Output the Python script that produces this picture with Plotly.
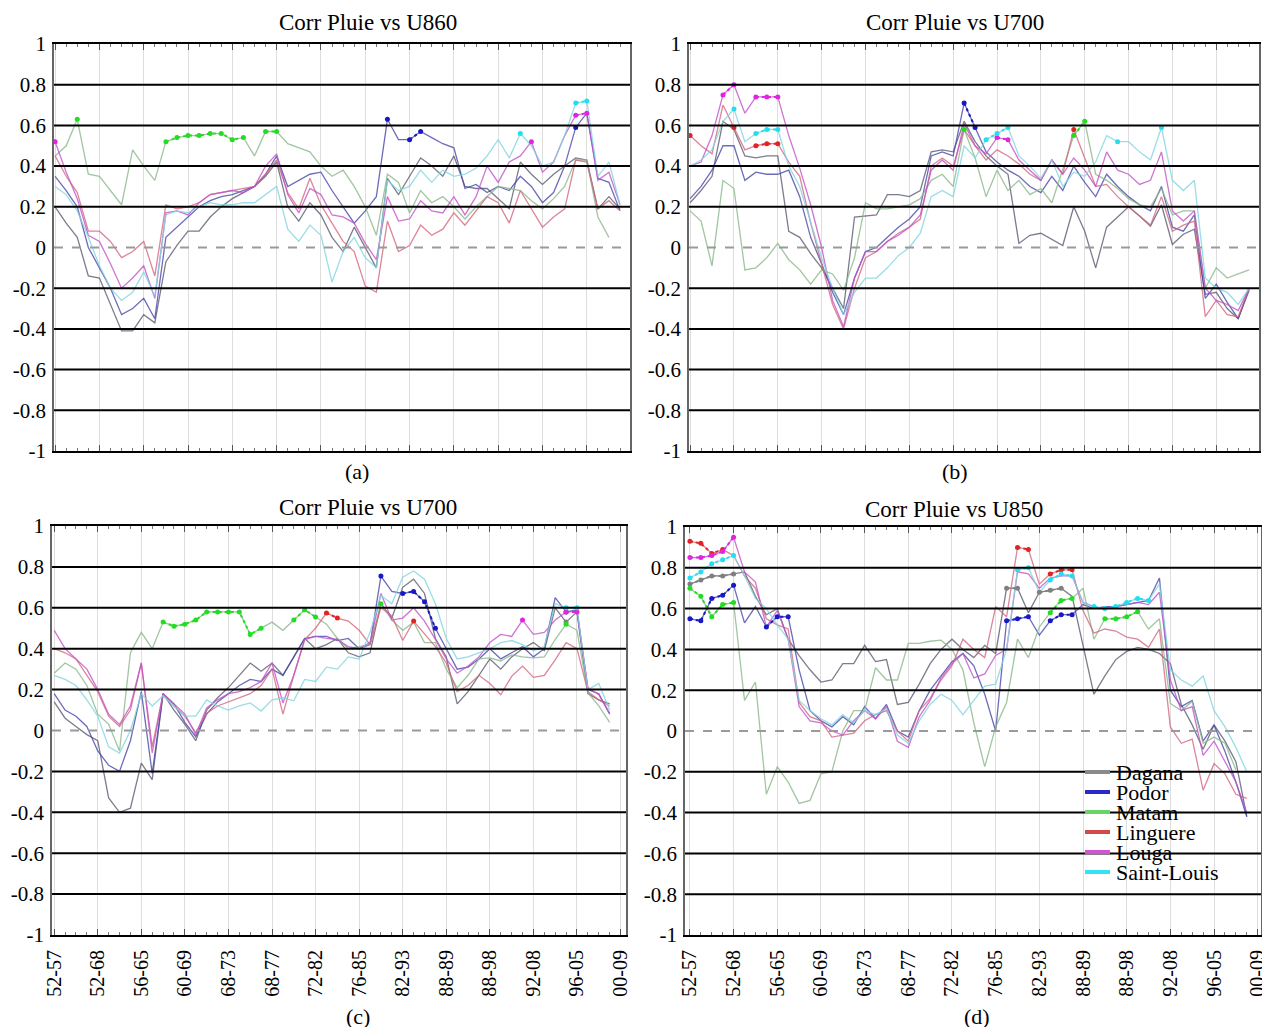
import plotly.graph_objects as go

# ---------------- data ----------------
stations = ["Dagana", "Podor", "Matam", "Linguere", "Louga", "Saint-Louis"]
x_labels = ["52-57", "52-68", "56-65", "60-69", "68-73", "68-77", "72-82",
            "76-85", "82-93", "88-89", "88-98", "92-08", "96-05", "00-09"]
y_ticks = [1, 0.8, 0.6, 0.4, 0.2, 0, -0.2, -0.4, -0.6, -0.8, -1]
y_ticktext = ["1", "0.8", "0.6", "0.4", "0.2", "0", "-0.2", "-0.4", "-0.6", "-0.8", "-1"]
grid_levels = [0.8, 0.6, 0.4, 0.2, -0.2, -0.4, -0.6, -0.8]
titles = ["Corr Pluie vs U860", "Corr Pluie vs U700", "Corr Pluie vs U700", "Corr Pluie vs U850"]
captions = ["(a)", "(b)", "(c)", "(d)"]

# panel (a)
a_dagana = [0.20,0.12,0.05,-0.14,-0.15,-0.28,-0.41,-0.41,-0.33,-0.37,
            -0.07,0.01,0.08,0.08,0.15,0.20,0.24,0.27,0.30,0.35,
            0.42,0.20,0.13,0.22,0.16,0.05,-0.02,0.10,0.00,-0.10,
            0.34,0.26,0.35,0.44,0.40,0.35,0.45,0.30,0.29,0.29,
            0.24,0.19,0.42,0.36,0.31,0.36,0.40,0.44,0.43,0.19,
            0.25,0.19]
a_podor = [0.35,0.28,0.20,0.00,-0.10,-0.20,-0.33,-0.30,-0.25,-0.35,
           0.05,0.10,0.15,0.20,0.23,0.25,0.26,0.28,0.30,0.36,
           0.45,0.30,0.33,0.36,0.37,0.28,0.20,0.12,0.18,0.25,
           0.63,0.53,0.53,0.57,0.54,0.51,0.49,0.29,0.31,0.27,
           0.30,0.28,0.35,0.30,0.22,0.27,0.40,0.59,0.66,0.34,
           0.32,0.18]
a_matam = [0.45,0.50,0.63,0.36,0.35,0.28,0.21,0.48,0.40,0.33,
           0.52,0.54,0.55,0.55,0.56,0.56,0.53,0.54,0.45,0.57,
           0.57,0.51,0.49,0.47,0.40,0.35,0.38,0.30,0.20,0.06,
           0.36,0.32,0.17,0.28,0.22,0.25,0.20,0.14,0.20,0.25,
           0.30,0.29,0.28,0.23,0.19,0.24,0.30,0.43,0.43,0.15,
           0.05,None]
a_linguere = [0.45,0.35,0.27,0.08,0.08,0.03,-0.05,-0.02,0.03,-0.14,
              0.21,0.19,0.20,0.22,0.26,0.27,0.28,0.29,0.30,0.36,
              0.43,0.27,0.19,0.34,0.21,0.12,0.03,-0.02,-0.19,-0.22,
              0.13,-0.02,0.01,0.11,0.06,0.09,0.17,0.11,0.18,0.25,
              0.22,0.12,0.28,0.19,0.10,0.15,0.19,0.43,0.42,0.19,
              0.23,0.18]
a_louga = [0.52,0.37,0.24,0.06,0.03,-0.08,-0.20,-0.15,-0.09,-0.25,
           0.17,0.18,0.16,0.22,0.26,0.27,0.28,0.27,0.30,0.40,
           0.46,0.26,0.17,0.29,0.26,0.16,0.15,0.12,0.02,-0.06,
           0.25,0.13,0.14,0.23,0.18,0.17,0.25,0.16,0.25,0.40,
           0.32,0.42,0.45,0.52,0.37,0.42,0.55,0.65,0.66,0.33,
           0.37,0.21]
a_stlouis = [0.30,0.26,0.18,0.05,-0.09,-0.20,-0.26,-0.22,-0.12,-0.24,
             0.16,0.18,0.17,0.20,0.22,0.21,0.21,0.22,0.22,0.26,
             0.30,0.09,0.03,0.11,0.06,-0.17,-0.02,0.05,-0.05,-0.10,
             0.33,0.28,0.30,0.38,0.32,0.38,0.35,0.36,0.39,0.45,
             0.53,0.44,0.56,0.50,0.40,0.42,0.55,0.71,0.72,0.35,
             0.42,0.21]

# panel (b)
b_dagana = [0.22,0.28,0.35,0.62,0.58,0.45,0.44,0.45,0.45,0.08,
            0.05,-0.03,-0.10,-0.20,-0.30,0.15,0.155,0.16,0.26,0.26,
            0.25,0.28,0.47,0.48,0.47,0.62,0.52,0.45,0.40,0.36,
            0.02,0.06,0.07,0.04,0.01,0.20,0.08,-0.10,0.10,0.15,
            0.20,0.155,0.105,0.21,0.015,0.065,0.09,-0.23,-0.22,-0.30,
            -0.35,-0.20]
b_podor = [0.24,0.30,0.38,0.50,0.50,0.33,0.37,0.36,0.36,0.38,
           0.25,0.05,-0.08,-0.22,-0.33,-0.15,-0.02,0.00,0.05,0.10,
           0.14,0.20,0.45,0.47,0.45,0.71,0.59,0.47,0.42,0.38,
           0.35,0.30,0.27,0.35,0.28,0.40,0.32,0.25,0.36,0.30,
           0.25,0.21,0.18,0.30,0.10,0.08,0.16,-0.25,-0.18,-0.27,
           -0.35,-0.21]
b_matam = [0.18,0.13,-0.09,0.33,0.29,-0.11,-0.10,-0.05,0.02,-0.06,
           -0.11,-0.18,-0.11,-0.13,-0.21,-0.05,0.22,0.19,0.19,0.20,
           0.21,0.24,0.33,0.36,0.30,0.58,0.44,0.25,0.38,0.28,
           0.33,0.26,0.29,0.22,0.38,0.55,0.62,0.36,0.33,0.29,
           0.24,0.21,0.20,0.29,0.16,0.18,0.18,-0.20,-0.10,-0.15,
           -0.13,-0.11]
b_linguere = [0.55,0.50,0.46,0.70,0.59,0.48,0.50,0.51,0.51,0.42,
              0.35,0.12,-0.08,-0.28,-0.40,-0.20,-0.05,-0.02,0.03,0.07,
              0.10,0.14,0.40,0.44,0.40,0.58,0.50,0.43,0.48,0.45,
              0.41,0.36,0.33,0.43,0.36,0.58,0.44,0.30,0.31,0.25,
              0.20,0.155,0.11,0.25,0.08,0.11,0.13,-0.34,-0.26,-0.33,
              -0.34,-0.20]
b_louga = [0.40,0.42,0.55,0.75,0.80,0.66,0.74,0.74,0.74,0.55,
           0.39,0.21,0.00,-0.26,-0.39,-0.15,-0.02,-0.02,0.03,0.06,
           0.10,0.16,0.38,0.43,0.38,0.61,0.50,0.46,0.54,0.53,
           0.43,0.38,0.33,0.43,0.36,0.44,0.38,0.30,0.47,0.38,
           0.36,0.31,0.33,0.47,0.18,0.13,0.18,-0.20,-0.26,-0.28,
           -0.31,-0.20]
b_stlouis = [0.40,0.43,0.48,0.62,0.68,0.52,0.56,0.58,0.58,0.40,
             0.30,0.12,-0.05,-0.20,-0.33,-0.22,-0.15,-0.15,-0.10,-0.04,
             0.00,0.07,0.25,0.28,0.25,0.50,0.44,0.53,0.56,0.59,
             0.45,0.40,0.34,0.43,0.30,0.37,0.35,0.42,0.55,0.52,
             0.52,0.47,0.43,0.59,0.33,0.28,0.33,-0.15,-0.20,-0.22,
             -0.28,-0.20]

# panel (c)
c_dagana = [0.14,0.06,0.02,-0.02,-0.05,-0.33,-0.40,-0.38,-0.16,-0.24,
            0.18,0.10,0.03,-0.05,0.10,0.16,0.21,0.27,0.33,0.29,
            0.33,0.27,0.36,0.45,0.40,0.42,0.45,0.38,0.36,0.38,
            0.62,0.55,0.70,0.74,0.67,0.45,0.36,0.13,0.19,0.27,
            0.35,0.30,0.36,0.40,0.43,0.39,0.60,0.53,0.58,0.18,
            0.15,0.13]
c_podor = [0.18,0.10,0.07,0.02,-0.10,-0.17,-0.20,-0.05,0.19,-0.21,
           0.18,0.13,0.04,-0.03,0.08,0.14,0.18,0.22,0.25,0.24,
           0.30,0.27,0.36,0.45,0.46,0.46,0.44,0.45,0.40,0.42,
           0.755,0.68,0.67,0.68,0.63,0.50,0.40,0.30,0.31,0.35,
           0.40,0.35,0.38,0.41,0.36,0.40,0.65,0.58,0.59,0.20,
           0.18,0.08]
c_matam = [0.28,0.33,0.30,0.22,0.08,0.03,-0.10,0.38,0.48,0.40,
           0.53,0.51,0.52,0.54,0.58,0.58,0.58,0.58,0.47,0.50,
           0.53,0.49,0.54,0.59,0.555,0.52,0.45,0.40,0.41,0.42,
           0.62,0.54,0.49,0.53,0.43,0.43,0.30,0.21,0.27,0.35,
           0.355,0.34,0.37,0.36,0.355,0.36,0.445,0.52,0.49,0.185,
           0.12,0.04]
c_linguere = [0.40,0.38,0.35,0.27,0.19,0.07,0.02,0.10,0.33,-0.08,
              0.18,0.12,0.07,-0.01,0.085,0.12,0.14,0.16,0.18,0.22,
              0.30,0.08,0.27,0.445,0.50,0.575,0.55,0.535,0.49,0.42,
              0.60,0.56,0.44,0.535,0.47,0.41,0.33,0.19,0.22,0.27,
              0.23,0.175,0.265,0.315,0.26,0.27,0.345,0.43,0.40,0.19,
              0.15,0.12]
c_louga = [0.49,0.40,0.35,0.30,0.20,0.08,0.03,0.12,0.33,-0.11,
           0.18,0.13,0.08,-0.02,0.11,0.15,0.18,0.19,0.21,0.24,
           0.33,0.135,0.27,0.445,0.46,0.45,0.445,0.41,0.40,0.43,
           0.67,0.54,0.55,0.60,0.535,0.445,0.35,0.28,0.315,0.36,
           0.43,0.47,0.46,0.54,0.47,0.48,0.54,0.58,0.58,0.21,
           0.175,0.085]
c_stlouis = [0.27,0.25,0.22,0.15,0.07,-0.08,-0.11,0.00,0.18,0.12,
             0.17,0.12,0.07,0.07,0.15,0.12,0.10,0.12,0.135,0.095,
             0.15,0.16,0.145,0.25,0.24,0.31,0.30,0.36,0.35,0.48,
             0.66,0.62,0.75,0.78,0.74,0.62,0.45,0.35,0.36,0.38,
             0.40,0.43,0.44,0.42,0.39,0.41,0.62,0.60,0.60,0.20,
             0.23,0.10]

# panel (d)
d_dagana = [0.72,0.74,0.76,0.76,0.77,0.78,0.66,0.57,0.60,0.45,
            0.37,0.30,0.24,0.25,0.33,0.33,0.42,0.34,0.35,0.13,
            0.14,0.23,0.33,0.40,0.45,0.40,0.36,0.42,0.38,0.70,
            0.70,0.58,0.68,0.69,0.70,0.66,0.42,0.18,0.27,0.35,
            0.39,0.41,0.40,0.38,0.33,0.13,0.03,-0.09,0.03,-0.05,
            -0.15,-0.42]
d_podor = [0.55,0.54,0.65,0.665,0.715,0.53,0.61,0.51,0.56,0.56,
           0.30,0.10,0.05,0.02,0.07,0.03,0.12,0.06,0.13,0.00,
           -0.03,0.10,0.20,0.27,0.34,0.38,0.32,0.18,0.00,0.54,
           0.55,0.56,0.47,0.54,0.57,0.57,0.62,0.60,0.61,0.61,
           0.62,0.63,0.64,0.75,0.20,0.12,0.15,-0.05,0.03,-0.10,
           -0.25,-0.42]
d_matam = [0.70,0.66,0.56,0.62,0.63,0.15,0.24,-0.31,-0.175,-0.25,
           -0.355,-0.34,-0.21,-0.20,0.00,0.10,0.10,0.31,0.25,0.25,
           0.43,0.43,0.44,0.445,0.40,0.30,0.04,-0.175,0.02,0.14,
           0.45,0.36,0.51,0.58,0.64,0.65,0.70,0.45,0.55,0.55,
           0.56,0.585,0.50,0.55,0.135,0.10,0.145,-0.06,-0.03,-0.06,
           -0.19,None]
d_linguere = [0.93,0.92,0.87,0.89,0.86,0.76,0.70,0.55,0.52,0.50,
              0.14,0.07,0.05,-0.03,-0.02,-0.01,0.05,0.08,0.10,0.00,
              -0.05,0.10,0.16,0.25,0.32,0.45,0.40,0.36,0.61,0.56,
              0.90,0.89,0.72,0.77,0.79,0.79,0.59,0.48,0.50,0.49,
              0.46,0.45,0.41,0.50,0.02,-0.06,-0.04,-0.29,-0.16,-0.21,
              -0.31,-0.33]
d_louga = [0.85,0.85,0.86,0.88,0.95,0.78,0.73,0.51,0.59,0.45,
           0.12,0.05,0.04,0.00,-0.02,0.05,0.10,0.06,0.12,-0.05,
           -0.08,0.07,0.15,0.26,0.33,0.38,0.26,0.28,0.37,0.40,
           0.78,0.77,0.70,0.75,0.76,0.76,0.63,0.61,0.60,0.61,
           0.62,0.63,0.62,0.68,0.25,0.10,0.12,-0.12,-0.05,-0.15,
           -0.25,-0.40]
d_stlouis = [0.75,0.78,0.82,0.84,0.86,0.76,0.65,0.60,0.52,0.45,
             0.15,0.10,0.06,0.03,0.08,0.04,0.10,0.08,0.11,-0.02,
             -0.06,0.05,0.13,0.18,0.15,0.08,0.15,0.22,0.23,0.40,
             0.79,0.80,0.68,0.74,0.77,0.76,0.63,0.61,0.60,0.61,
             0.63,0.65,0.64,0.72,0.30,0.25,0.22,0.27,0.10,0.02,
             -0.08,-0.20]

# indices of significant windows (drawn with markers), per station order
a_sig = [[], [30, 32, 33, 47], [2, 10, 11, 12, 13, 14, 15, 16, 17, 19, 20], [], [0, 43, 47, 48], [42, 47, 48]]
b_sig = [[], [25, 26], [25, 35, 36], [0, 4, 6, 7, 8, 35], [3, 4, 6, 7, 8, 28, 29], [4, 6, 7, 8, 27, 28, 29, 39, 43]]
c_sig = [[47], [30, 32, 33, 34, 35, 47], [10, 11, 12, 13, 14, 15, 16, 17, 18, 19, 22, 23, 24, 30, 47],
         [25, 26, 33], [43, 47, 48], [47, 48]]
d_sig = [[0, 1, 2, 3, 4, 29, 30, 32, 33, 34], [0, 1, 2, 3, 4, 7, 8, 9, 29, 30, 31, 33, 34, 35],
         [0, 1, 2, 3, 4, 33, 34, 35, 38, 39, 40, 41], [0, 1, 2, 3, 30, 31, 33, 34, 35],
         [0, 1, 2, 3, 4], [0, 1, 2, 3, 4, 30, 31, 33, 34, 35, 37, 38, 39, 40, 41, 42]]

panel_series = [
    [a_dagana, a_podor, a_matam, a_linguere, a_louga, a_stlouis],
    [b_dagana, b_podor, b_matam, b_linguere, b_louga, b_stlouis],
    [c_dagana, c_podor, c_matam, c_linguere, c_louga, c_stlouis],
    [d_dagana, d_podor, d_matam, d_linguere, d_louga, d_stlouis],
]
panel_sig = [a_sig, b_sig, c_sig, d_sig]

# ---------------- style ----------------
base_colors = ["#5c5c72", "#4848aa", "#8ab88a", "#d46880", "#c452ca", "#80d6e0"]
sig_colors = ["#808080", "#1818c8", "#22dd22", "#e02424", "#e024e0", "#22dff0"]
legend_colors = ["#8a8a8a", "#2a2ac8", "#66d466", "#d04a4a", "#d552d5", "#35e2f2"]
SERIF = "Liberation Serif"

W, H = 1270, 1027
OFF = 8  # page body margin of the browser: figure is drawn 8px in from the corner


def px(x):
    return (x - OFF) / W


def py(y):
    return 1 - (y - OFF) / H


# plot areas in screen pixels (left, right, top, bottom)
boxes = [(54, 630, 44, 451), (689, 1259, 44, 451), (52, 626, 526, 935), (685, 1261, 527, 935)]
xranges = [[-0.1, 51.9], [-0.1, 51.9], [-0.2, 52.5], [-0.45, 52.3]]
title_pos = [(368, 22), (955, 22), (368, 507), (954, 509)]
caption_pos = [(357, 471), (955, 471), (358, 1016), (977, 1016)]
legend_box = (1085, 1110, 1115, 772, 20)  # swatch x0, x1, text x, first row y, row step

fig = go.Figure()
n = len(a_dagana)
xs = list(range(n))

for p in range(4):
    ax = "" if p == 0 else str(p + 1)
    for s in range(6):
        ys = panel_series[p][s]
        fig.add_trace(go.Scatter(
            x=xs, y=ys, mode="lines",
            line=dict(color=base_colors[s], width=1.3),
            opacity=0.8, showlegend=False, hoverinfo="skip",
            xaxis="x" + ax, yaxis="y" + ax))
    for s in range(6):
        ys = panel_series[p][s]
        sig = set(panel_sig[p][s])
        if not sig:
            continue
        ysig = [ys[i] if i in sig else None for i in xs]
        fig.add_trace(go.Scatter(
            x=xs, y=ysig, mode="lines+markers",
            line=dict(color=sig_colors[s], width=2, dash="dot"),
            marker=dict(color=sig_colors[s], size=5),
            showlegend=False, hoverinfo="skip",
            xaxis="x" + ax, yaxis="y" + ax))

layout = dict(
    width=W, height=H,
    margin=dict(l=0, r=0, t=0, b=0, autoexpand=False),
    paper_bgcolor="white", plot_bgcolor="white",
    font=dict(family=SERIF, color="black"),
    showlegend=False,
)

shapes = []
annotations = []
major_ticks = list(range(0, 4 * len(x_labels), 4))
for p in range(4):
    l, r, t, b = boxes[p]
    ax = "" if p == 0 else str(p + 1)
    bottom_row = p >= 2
    layout["xaxis" + ax] = dict(
        domain=[px(l), px(r)], anchor="y" + ax, range=xranges[p], automargin=False,
        tickmode="array", tickvals=major_ticks, ticktext=x_labels,
        showticklabels=bottom_row, tickangle=-90,
        tickfont=dict(family=SERIF, size=20, color="black"),
        ticks="inside", ticklen=6, tickcolor="#555", tickwidth=1,
        showgrid=True, gridcolor="#dedede", gridwidth=1,
        showline=True, linecolor="black", linewidth=2, mirror="ticks",
        zeroline=False, ticklabelstandoff=5,
        minor=dict(ticks="inside", ticklen=3, tickcolor="#777",
                   tickmode="array", tickvals=xs, showgrid=False),
    )
    layout["yaxis" + ax] = dict(
        domain=[py(b), py(t)], anchor="x" + ax, range=[-1, 1], automargin=False,
        tickmode="array", tickvals=y_ticks, ticktext=y_ticktext,
        tickfont=dict(family=SERIF, size=21, color="black"),
        ticks="", showgrid=False, zeroline=False,
        showline=True, linecolor="#666", linewidth=1.5, mirror=True,
        ticklabelstandoff=2,
    )
    for lv in grid_levels:
        shapes.append(dict(type="line", xref="x" + ax + " domain", x0=0, x1=1,
                           yref="y" + ax, y0=lv, y1=lv,
                           line=dict(color="black", width=2), layer="above"))
    shapes.append(dict(type="line", xref="x" + ax + " domain", x0=0, x1=1,
                       yref="y" + ax, y0=0, y1=0,
                       line=dict(color="#9a9a9a", width=2, dash="dash"), layer="above"))
    tx, ty = title_pos[p]
    annotations.append(dict(text=titles[p], x=px(tx), y=py(ty), xref="paper", yref="paper",
                            xanchor="center", yanchor="middle", showarrow=False,
                            font=dict(family=SERIF, size=23, color="black")))
    cx, cy = caption_pos[p]
    annotations.append(dict(text=captions[p], x=px(cx), y=py(cy), xref="paper", yref="paper",
                            xanchor="center", yanchor="middle", showarrow=False,
                            font=dict(family=SERIF, size=22, color="black")))

# legend (inside panel d)
sx0, sx1, tx0, ly0, lstep = legend_box
for s in range(6):
    yy = ly0 + lstep * s
    shapes.append(dict(type="line", xref="paper", yref="paper", x0=px(sx0), x1=px(sx1),
                       y0=py(yy), y1=py(yy), line=dict(color=legend_colors[s], width=4), layer="above"))
    annotations.append(dict(text=stations[s], x=px(tx0), y=py(yy), xref="paper", yref="paper",
                            xanchor="left", yanchor="middle", showarrow=False, borderpad=0,
                            font=dict(family=SERIF, size=22, color="black")))

layout["shapes"] = shapes
layout["annotations"] = annotations
fig.update_layout(**layout)
fig.write_html("out.html")
